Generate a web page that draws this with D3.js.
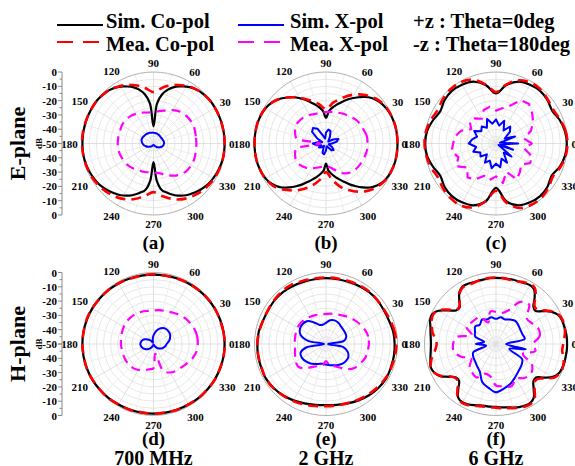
<!DOCTYPE html>
<html><head><meta charset="utf-8">
<script src="https://cdn.jsdelivr.net/npm/d3@7"></script>
<style>
body{margin:0;background:#fff}
svg{display:block}
text{font-family:"Liberation Serif","Times New Roman",serif;font-weight:bold;fill:#000}
</style>
</head><body>
<svg id="c" width="575" height="466"></svg>
<script>
// ---------- tick labels ----------
const angleTicks = [0,30,60,90,120,150,180,210,240,270,300,330];
const radialTicks = [0,-10,-20,-30,-40,-50];
const panelTags = ["(a)","(b)","(c)","(d)","(e)","(f)"];
const freqLabels = ["700 MHz","2 GHz","6 GHz"];
const planeLabels = ["E-plane","H-plane"];
const legendNames = ["Sim. Co-pol","Mea. Co-pol","Sim. X-pol","Mea. X-pol"];
const legendNotes = ["+z : Theta=0deg","-z : Theta=180deg"];

// ---------- data (dB, evenly spaced from 0 deg, counter-clockwise) ----------
// (a) E-plane 700 MHz
const aSimCo = [-0.3,-0.3,-0.3,-0.3,-0.3,-0.3,-0.3,-0.3,-0.5,-1,-1.5,-2.5,-4,-6,-8,-11,-15,-22,-38,-22,-15,-11,-8,-6,-4,-2.5,-1.5,-1,-0.5,-0.3,-0.3,-0.3,-0.3,-0.3,-0.3,-0.3,-0.3,-0.3,-0.3,-0.5,-0.8,-1.2,-1.7,-2.2,-3,-4,-5.2,-6.5,-8,-9.8,-12,-14.5,-17,-24,-37,-24,-17,-14.5,-12,-9.8,-8,-6.5,-5.2,-4,-3,-2.2,-1.7,-1.2,-0.8,-0.5,-0.3,-0.3];
const aMeaCo = [-0.3,-0.3,-0.3,-0.3,-0.5,-1.5,-3.5,-6.5,-10,-14,-10,-6.5,-3.5,-1.5,-0.5,-0.3,-0.2,0,0,-0.2,-0.5,-1,-2,-3.5,-5.5,-8.5,-12.5,-16,-12.5,-8.5,-5.5,-3.5,-2,-1,-0.5,-0.3];
const aSimX = [-42.6,-42.7,-43,-43.2,-43.3,-43.2,-43,-42.7,-42.6,-42.4,-42.3,-42,-41.9,-41.7,-41.6,-41.3,-41.2,-41.6,-42.3,-43.2,-44.4,-45.4,-46.5,-47.2,-47.9,-48.5,-48.9,-49.2,-48.9,-48.5,-47.9,-46.8,-45.8,-44.7,-43.7,-43];
const aMeaX = [-20,-20,-19.5,-19.5,-20,-21,-23,-25.5,-27,-28,-28,-27,-26,-25,-24.5,-24.5,-25,-25,-25,-25,-25.5,-26,-26.5,-27.5,-28.5,-29,-29.5,-29.5,-29,-27,-24,-21.5,-20,-19.5,-19.5,-20];
// (b) E-plane 2 GHz
const bSimCo = [0,0,0,0,-0.3,-0.6,-1.2,-2,-3.2,-5,-7.5,-10.5,-13.5,-16.5,-19.5,-22,-24.5,-27.5,-32,-27.5,-24.5,-22,-19.5,-16.5,-13.5,-10.5,-8,-5.5,-3.5,-2,-1,-0.5,-0.2,0,0,0,0,0,0,0,-0.3,-0.6,-1.2,-2.2,-4,-6.5,-10,-13.5,-17,-20.5,-23.5,-26,-28.5,-31,-36,-31,-28.5,-26,-23.5,-20.5,-17,-13.5,-10,-6.5,-4,-2.2,-1.2,-0.6,-0.3,0,0,0];
const bMeaCo = [0,0,-0.2,-0.8,-2.5,-6,-10.5,-16,-21,-26,-22,-18,-13,-8,-3.5,-1,0,0,0,0,-0.3,-1,-3,-7.5,-12.5,-18,-24,-30,-24,-17,-11.5,-6.5,-3,-1,-0.2,0];
const bSimX = [-45.8,-42.3,-40.8,-44.4,-47.9,-47.2,-44.4,-40.8,-40.1,-42.3,-46.5,-44.4,-38,-35.9,-37.3,-43,-47.2,-44.4,-40.8,-43,-46.5,-44.4,-45.8,-47.9,-46.5,-43,-42.3,-45.1,-47.9,-47.9,-46.5,-43.7,-43,-45.1,-47.9,-47.9];
const bMeaX = [-21,-21,-22,-22.5,-23.5,-25,-26,-27,-27.5,-28,-28,-28,-27,-26,-25.5,-25.5,-27,-29,-46,-29,-27,-26,-26.5,-28,-30,-32,-33.5,-34,-33,-30,-26,-23.5,-22.5,-22,-21.5,-21];
// (c) E-plane 6 GHz
const cSimCo = [-0.5,-1,-2.5,-4.5,-3,-2,-2.5,-4,-8.5,-15,-8.5,-4,-2.5,-2,-3,-5,-3,-1,-0.5,-1,-3,-5,-3,-2,-2.5,-4,-9,-19,-9,-4,-2.5,-2,-3,-5,-2.5,-1];
const cMeaCo = [0,-0.5,-2,-3.5,-2.5,-1,-1,-3,-8,-14,-8,-2.5,-0.5,-0.5,-1.5,-3,-1.5,-0.3,0,-0.5,-1.5,-3,-1.5,-0.3,0,-2.5,-9,-17,-8,-2,-0.5,-0.5,-2,-4,-2,-0.5];
const cSimX = [-34.5,-47.2,-35.9,-43,-37.3,-34.5,-39.4,-33.1,-37.3,-33.1,-35.9,-31.7,-37.3,-34.5,-36.6,-32.4,-35.9,-33.1,-31,-35.9,-33.1,-37.3,-35.9,-40.1,-34.5,-37.3,-32.4,-35.9,-33.1,-38.7,-34.5,-41.6,-35.9,-47.9,-37.3,-46.5];
const cMeaX = [-25,-30,-24,-20,-17,-14,-15,-22,-25,-27,-24,-25,-30,-27,-26,-30,-24,-21,-20,-18.5,-22,-18,-24,-19,-21,-26,-24,-27,-22,-29,-21,-24,-27,-22.5,-23,-30];
// (d) H-plane 700 MHz
const dSimCo = [-0.3,-0.3,-0.4,-0.5,-0.7,-0.9,-1.1,-1.3,-1.5,-1.5,-1.5,-1.3,-1.1,-0.9,-0.7,-0.5,-0.4,-0.3,-0.3,-0.3,-0.4,-0.5,-0.7,-0.9,-1.1,-1.2,-1.3,-1.3,-1.3,-1.2,-1.1,-0.9,-0.7,-0.5,-0.4,-0.3];
const dMeaCo = [-0.2,-0.4,-0.6,-0.4,-0.5,-0.9,-1,-1.4,-1.6,-1.2,-1.4,-1.5,-1,-0.8,-0.9,-0.4,-0.2,-0.4,-0.2,-0.5,-0.3,-0.6,-0.8,-0.7,-1.2,-1,-1.5,-1.2,-1.4,-1,-1.2,-0.7,-0.8,-0.3,-0.5,-0.2];
const dSimX = [-40.8,-39.1,-37.7,-36.6,-36.3,-36.3,-37,-38.7,-41.2,-44,-46.8,-48.9,-48.6,-46.8,-45.1,-43.3,-41.9,-41.2,-40.8,-41.2,-41.9,-43,-44.4,-45.8,-47.2,-48.6,-49.3,-49.6,-49.6,-49.3,-48.2,-46.5,-45.1,-43.7,-42.6,-41.6];
const dMeaX = [-19,-19,-19.5,-20.5,-21.5,-23,-24.5,-25.5,-26,-26.5,-26.5,-26,-25.5,-25.5,-25.5,-26,-26.5,-27,-27.2,-27.5,-27.5,-27.5,-27.5,-28,-29,-30.5,-32,-33,-43,-30,-27,-25.5,-24.5,-23,-21,-19.5];
// (e) H-plane 2 GHz
const eSimCo = [-2,-2.2,-3,-3.2,-2.8,-2.8,-3.3,-3.8,-4,-4,-4,-3.8,-3.3,-2.8,-2.8,-3.2,-3,-2.2,-2,-1.8,-1.8,-1.5,-2.2,-3.2,-4.5,-5.8,-6.8,-7.3,-6.8,-5.8,-4.5,-3.2,-2.2,-1.5,-1.8,-1.8];
const eMeaCo = [-0.8,-1.2,-2,-2.8,-2.8,-2.5,-2.8,-3.2,-3.5,-3.5,-3.5,-3,-2,-2,-2.5,-3,-3,-2.5,-2,-2,-2,-1.5,-2,-3,-4,-5,-6,-6.5,-6.5,-6,-5,-4,-3,-2,-1.5,-1];
const eSimX = [-48.6,-37.3,-34.9,-34.5,-34.3,-33.8,-32.8,-32.4,-33.1,-35.2,-36.3,-35.6,-32.4,-29.2,-28.5,-28.9,-31,-37.3,-48.6,-35.9,-31,-30.6,-31.3,-32.4,-33.8,-35.2,-35.9,-35.6,-34.9,-34.2,-33.1,-32,-31.7,-31.9,-33.8,-38];
const eMeaX = [-20,-20,-21,-22.5,-24,-25.5,-27,-28,-28.5,-29,-29,-28.5,-28,-27.5,-27,-27,-27.5,-28,-28,-28,-27,-25.5,-25,-28,-31.5,-33.5,-34.5,-38,-34.5,-33.5,-31,-27,-24,-22.5,-21,-20.5];
// (f) H-plane 6 GHz
const fSimCo = [-0.3,-0.3,-0.5,-0.8,-1,-2,-5,-10,-14,-13,-8,-3.5,-2.5,-3,-3.5,-3.5,-3.8,-3.8,-3.8,-3.8,-4,-4,-4,-3.5,-3.5,-5.5,-10,-14,-13.5,-9,-3.5,-0.8,-1,-2.5,-3.5,-4.2,-4.5,-4.2,-3.5,-2.5,-1.5,-2.5,-5,-10,-13.5,-13.5,-9,-4,-3,-3.5,-4.5,-5.5,-6,-6,-6,-5.5,-5,-4,-3,-2.5,-2.3,-4,-9,-13,-13.5,-9,-4,-1.5,-0.8,-0.5,-0.5,-0.3];
const fMeaCo = [-3,-2,-1,-0.5,-0.5,-1.5,-4.5,-9,-12.5,-12,-7,-2.5,-1.5,-2.5,-3.5,-4,-4,-3.5,-3.5,-3.5,-3.8,-4,-4.5,-4.5,-4,-6,-10.5,-13.5,-13,-8,-3,-1.5,-2,-3.5,-5,-7.5,-8.5,-7.5,-5,-3,-1.5,-2.5,-5.5,-10.5,-13,-12.5,-8,-3.5,-2.5,-3,-4,-5,-5.5,-5.5,-5.5,-5,-4.5,-3.5,-2.5,-1.8,-1.5,-3,-8,-12,-12,-8,-3,-1,-0.5,-1,-2.5,-3.5];
const fSimX = [-43,-29.6,-30.3,-30.3,-29.6,-28.9,-30.3,-31.7,-31,-32.4,-31,-31.7,-30.3,-32.4,-31,-33.1,-34.5,-41.6,-35.9,-43,-33.1,-31.7,-31,-29.6,-27.5,-21.8,-19,-16.2,-18.3,-20.4,-23.2,-25.4,-26.8,-28.9,-40.1,-28.9];
const fMeaX = [-24,-19,-18.5,-21,-22,-14,-16,-25,-28,-27.5,-27,-34,-28,-27.5,-27,-26,-32,-22,-20,-20,-24,-30,-26,-24,-23,-28,-27,-21,-20,-18.5,-22,-19,-18,-21,-30,-22];

// ---------- layout ----------
const R = 71.5;
const colX = [153.5, 326, 496];
const rowY = [143.5, 344];
const panels = [
  {tag:0, col:0, row:0, simCo:aSimCo, meaCo:aMeaCo, simX:aSimX, meaX:aMeaX, jagX:false, jagM:false},
  {tag:1, col:1, row:0, simCo:bSimCo, meaCo:bMeaCo, simX:bSimX, meaX:bMeaX, jagX:true, jagM:false},
  {tag:2, col:2, row:0, simCo:cSimCo, meaCo:cMeaCo, simX:cSimX, meaX:cMeaX, jagX:true, jagM:true},
  {tag:3, col:0, row:1, simCo:dSimCo, meaCo:dMeaCo, simX:dSimX, meaX:dMeaX, jagX:false, jagM:false},
  {tag:4, col:1, row:1, simCo:eSimCo, meaCo:eMeaCo, simX:eSimX, meaX:eMeaX, jagX:false, jagM:false},
  {tag:5, col:2, row:1, simCo:fSimCo, meaCo:fMeaCo, simX:fSimX, meaX:fMeaX, jagX:false, jagM:false}
];
const styles = {
  simCo:{stroke:"#000000", width:2.2, dash:null},
  meaCo:{stroke:"#ff0000", width:2.6, dash:"10,6"},
  simX:{stroke:"#0000ff", width:2.0, dash:null},
  meaX:{stroke:"#ff00ff", width:2.2, dash:"9,6"}
};

const svg = d3.select("#c");
const rScale = d3.scaleLinear().domain([-50, 0]).range([0, R]).clamp(true);
const toRad = deg => (90 - deg) * Math.PI / 180;
const pts = arr => arr.map((v, i) => ({a: i * 360 / arr.length, v}));
const smooth = d3.lineRadial().angle(d => toRad(d.a)).radius(d => rScale(d.v))
  .curve(d3.curveCatmullRomClosed.alpha(0.5));
const jagged = d3.lineRadial().angle(d => toRad(d.a)).radius(d => rScale(d.v))
  .curve(d3.curveLinearClosed);

panels.forEach(p => {
  const cx = colX[p.col], cy = rowY[p.row];
  const g = svg.append("g").attr("transform", `translate(${cx},${cy})`);
  d3.range(-45, 0, 5).forEach(db => {
    g.append("circle").attr("r", rScale(db)).attr("fill", "none")
      .attr("stroke", "#dcdcdc").attr("stroke-width", 0.7);
  });
  d3.range(0, 360, 15).forEach(a => {
    const t = a * Math.PI / 180;
    g.append("line").attr("x1", 0).attr("y1", 0)
      .attr("x2", R * Math.cos(t)).attr("y2", -R * Math.sin(t))
      .attr("stroke", a % 30 === 0 ? "#d4d4d4" : "#e6e6e6").attr("stroke-width", 0.7);
  });
  g.append("circle").attr("r", R).attr("fill", "none").attr("stroke", "#b0b0b0").attr("stroke-width", 1);
  angleTicks.forEach(a => {
    const t = a * Math.PI / 180;
    const s = String(a);
    const w = s.length * 5.6;
    const rr = R + 4 + (w / 2) * Math.abs(Math.cos(t)) + 5 * Math.abs(Math.sin(t));
    g.append("text").attr("x", rr * Math.cos(t)).attr("y", -rr * Math.sin(t))
      .attr("text-anchor", "middle").attr("dominant-baseline", "central")
      .attr("font-size", 11).text(s);
  });
  ["simCo", "meaCo", "simX", "meaX"].forEach(k => {
    const st = styles[k];
    const gen = (k === "simX" && p.jagX) || (k === "meaX" && p.jagM) ? jagged : smooth;
    const path = g.append("path").attr("d", gen(pts(p[k]))).attr("fill", "none")
      .attr("stroke", st.stroke).attr("stroke-width", st.width)
      .attr("stroke-linejoin", "round");
    if (st.dash) path.attr("stroke-dasharray", st.dash);
  });
  svg.append("text").attr("x", cx).attr("y", p.row === 0 ? 249 : 444.5)
    .attr("text-anchor", "middle").attr("font-size", 19).text(panelTags[p.tag]);
});

freqLabels.forEach((f, i) => {
  svg.append("text").attr("x", colX[i]).attr("y", 464.5).attr("text-anchor", "middle")
    .attr("font-size", 20).text(f);
});

rowY.forEach((cy, ri) => {
  const ax = svg.append("g");
  const x0 = 62;
  ax.append("line").attr("x1", x0).attr("x2", x0).attr("y1", cy - R).attr("y2", cy + R)
    .attr("stroke", "#888").attr("stroke-width", 1);
  d3.range(-50, 1, 5).forEach(db => {
    const major = db % 10 === 0;
    [-1, 1].forEach(sgn => {
      const y = cy + sgn * rScale(db);
      ax.append("line").attr("x1", x0 - (major ? 4 : 2.5)).attr("x2", x0).attr("y1", y).attr("y2", y)
        .attr("stroke", "#888").attr("stroke-width", 1);
    });
  });
  radialTicks.forEach(db => {
    const ys = db === -50 ? [cy] : [cy - rScale(db), cy + rScale(db)];
    ys.forEach(y => {
      ax.append("text").attr("x", x0 - 5).attr("y", y).attr("text-anchor", "end")
        .attr("dominant-baseline", "central").attr("font-size", 11).text(String(db));
    });
  });
  ax.append("text").attr("transform", `translate(42,${cy}) rotate(-90)`)
    .attr("text-anchor", "middle").attr("font-size", 9).text("dB");
  ax.append("text").attr("transform", `translate(25,${cy}) rotate(-90)`)
    .attr("text-anchor", "middle").attr("font-size", 22).text(planeLabels[ri]);
});

const lg = svg.append("g");
const legendItems = [
  {k:"simCo", x:57, y:25, tx:106, ty:28, name:legendNames[0]},
  {k:"meaCo", x:57, y:42, tx:106, ty:51, name:legendNames[1]},
  {k:"simX", x:238, y:25, tx:290, ty:28, name:legendNames[2]},
  {k:"meaX", x:238, y:42, tx:290, ty:51, name:legendNames[3]}
];
legendItems.forEach(it => {
  const st = styles[it.k];
  const l = lg.append("line").attr("x1", it.x).attr("x2", it.x + 46).attr("y1", it.y).attr("y2", it.y)
    .attr("stroke", st.stroke).attr("stroke-width", 2.2);
  if (st.dash) l.attr("stroke-dasharray", "16,10");
  lg.append("text").attr("x", it.tx).attr("y", it.ty).attr("font-size", 20.5).text(it.name);
});
legendNotes.forEach((t, i) => {
  lg.append("text").attr("x", 413).attr("y", i === 0 ? 28 : 51).attr("font-size", 20.5).text(t);
});
</script>
</body></html>
